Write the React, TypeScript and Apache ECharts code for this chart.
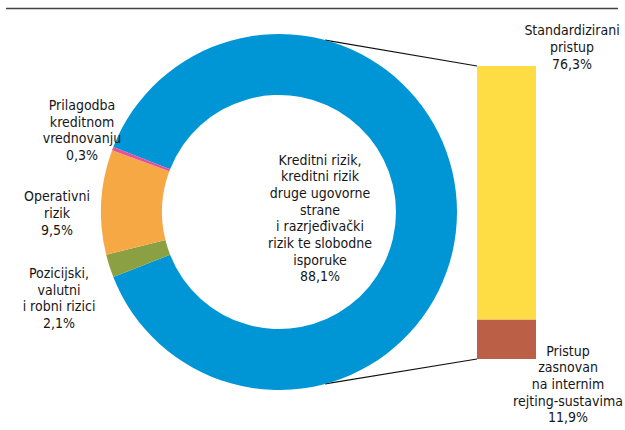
import React, { useEffect, useRef } from "react";
import * as echarts from "echarts";

// Donut: structure of capital requirements (%)
const pieNames = [
  "Kreditni rizik,\nkreditni rizik\ndruge ugovorne\nstrane\ni razrjeđivački\nrizik te slobodne\nisporuke",
  "Pozicijski,\nvalutni\ni robni rizici",
  "Operativni\nrizik",
  "Prilagodba\nkreditnom\nvrednovanju",
];
const pieValues = [88.1, 2.1, 9.5, 0.3];
const pieColors = ["#0096D6", "#8BA043", "#F6A844", "#E4509B"];

// Bar: breakdown of credit risk by approach (%)
const barCategory = ["Kreditni rizik"];
const barNames = ["Pristup\nzasnovan\nna internim\nrejting-sustavima", "Standardizirani\npristup"];
const barValues = [11.9, 76.3];
const barColors = ["#BC5F47", "#FDDC44"];

const FONT = "'DejaVu Sans Condensed', 'Liberation Sans Narrow', sans-serif";

const fmt = (v: number) => v.toFixed(1).replace(".", ",") + "%";

export default function App() {
  const ref = useRef<HTMLDivElement>(null);
  useEffect(() => {
    document.body.style.margin = "0";
    if (!ref.current) return;
    const chart = echarts.init(ref.current, null, { renderer: "svg" });

    const cx = 279, cy = 212, rIn = 117, rOut = 178;
    const smallShare = 100 - pieValues[0];
    const startAngle = 180 - (smallShare * 3.6) / 2;

    const gridLeft = 477, gridTop = 66, gridW = 59, gridH = 293;
    const barTotal = barValues.reduce((a, b) => a + b, 0);

    const pieLabelPos = [
      { x: 320, y: 218 },
      { x: 59, y: 298 },
      { x: 57, y: 213 },
      { x: 82, y: 130 },
    ];
    const barLabelPos = [
      { x: 568, y: 384 },
      { x: 572, y: 47 },
    ];

    const connAngle = (75 * Math.PI) / 180;
    const p1 = [cx + rOut * Math.cos(connAngle), cy - rOut * Math.sin(connAngle)];
    const p2 = [cx + rOut * Math.cos(connAngle), cy + rOut * Math.sin(connAngle)];

    const textStyle = {
      fontFamily: FONT,
      fontSize: 14,
      lineHeight: 16.7,
      color: "#161616",
      align: "center" as const,
    };

    chart.setOption({
      animation: false,
      grid: { left: gridLeft, top: gridTop, width: gridW, height: gridH },
      xAxis: { type: "category", data: barCategory, show: false },
      yAxis: { type: "value", min: 0, max: barTotal, show: false },
      graphic: [
        {
          type: "line",
          shape: { x1: 6, y1: 8.5, x2: 618, y2: 8.5 },
          style: { stroke: "#444", lineWidth: 1.3 },
        },
        {
          type: "line",
          shape: { x1: p1[0], y1: p1[1], x2: gridLeft, y2: gridTop },
          style: { stroke: "#111", lineWidth: 1.2 },
        },
        {
          type: "line",
          shape: { x1: p2[0], y1: p2[1], x2: gridLeft, y2: gridTop + gridH },
          style: { stroke: "#111", lineWidth: 1.2 },
        },
      ],
      series: [
        {
          type: "pie",
          center: [cx, cy],
          radius: [rIn, rOut],
          startAngle,
          clockwise: true,
          silent: true,
          avoidLabelOverlap: false,
          label: {
            show: true,
            position: "outside",
            formatter: (p: any) => `${p.name}\n${fmt(p.value)}`,
            ...textStyle,
          },
          labelLine: { show: false },
          labelLayout: (p: any) => ({
            x: pieLabelPos[p.dataIndex].x,
            y: pieLabelPos[p.dataIndex].y,
            align: "center",
            verticalAlign: "middle",
          }),
          data: pieNames.map((n, i) => ({
            name: n,
            value: pieValues[i],
            itemStyle: { color: pieColors[i] },
          })),
        },
        ...barValues.map((v, i) => ({
          type: "bar",
          stack: "total",
          name: barNames[i],
          barWidth: "100%",
          silent: true,
          data: [v],
          itemStyle: { color: barColors[i] },
          label: {
            show: true,
            position: "right",
            formatter: () => `${barNames[i]}\n${fmt(v)}`,
            ...textStyle,
          },
          labelLayout: () => ({
            x: barLabelPos[i].x,
            y: barLabelPos[i].y,
            align: "center",
            verticalAlign: "middle",
          }),
        })),
      ],
    });
    return () => chart.dispose();
  }, []);
  return (
    <div
      ref={ref}
      style={{ position: "absolute", left: 0, top: 0, width: 625, height: 430 }}
    />
  );
}
